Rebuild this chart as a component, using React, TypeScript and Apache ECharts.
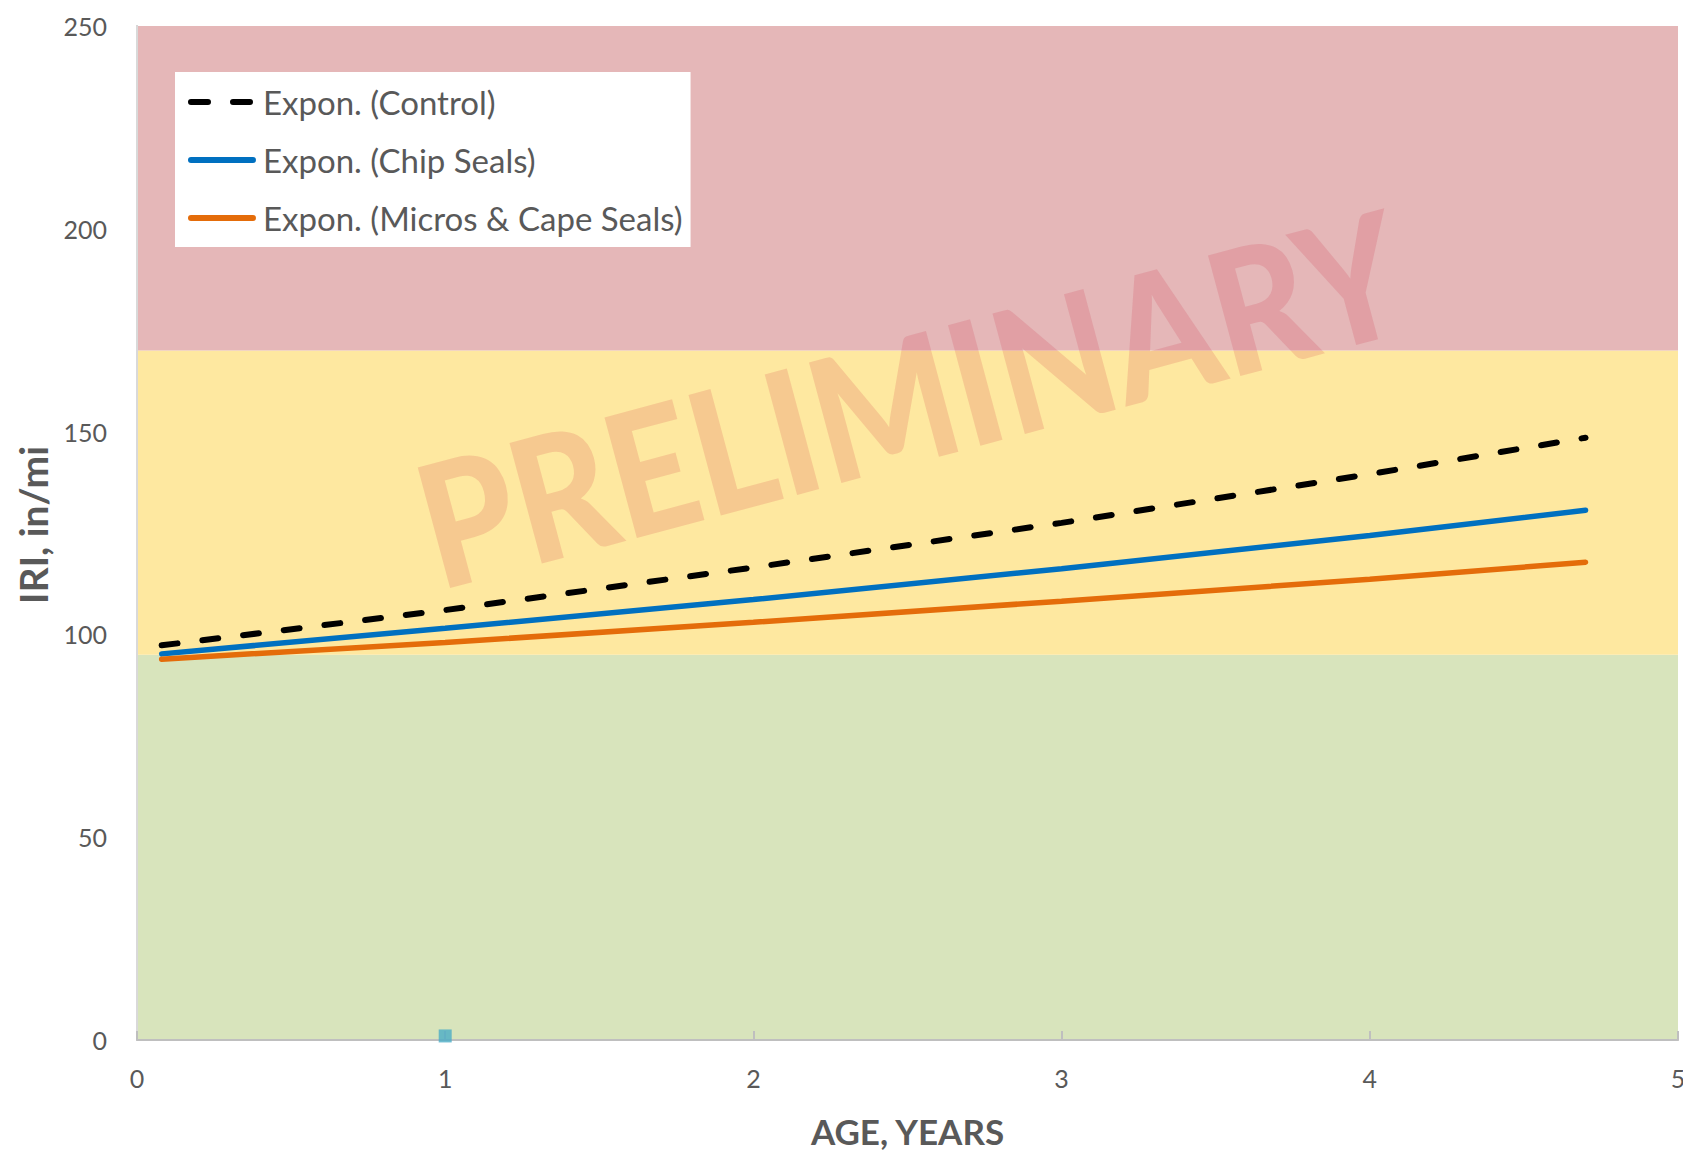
import React, { useEffect, useRef } from "react";
import * as echarts from "echarts";

// ---- data ----
const ageYears = [0.08, 1, 2, 3, 4, 4.7];
const controlIri = [97.3, 106.0, 116.5, 127.5, 139.5, 148.5];
const chipSealIri = [95.2, 101.5, 108.6, 116.2, 124.4, 130.6];
const microCapeIri = [93.9, 98.0, 103.0, 108.2, 113.6, 117.8];
const sampleAge = [1];
const sampleIri = [1];
const seriesNames = ["Expon. (Control)", "Expon. (Chip Seals)", "Expon. (Micros & Cape Seals)"];
const seriesColors = ["#000000", "#0070C0", "#E46C0A"];
const bandLimits = [0, 95, 170, 250];
const bandColors = ["#D8E4BC", "#FEE8A0", "#E5B7B8"];
const xTicks = [0, 1, 2, 3, 4, 5];
const yTicks = [0, 50, 100, 150, 200, 250];

const FONT = "Lato, 'Open Sans', sans-serif";
const TEXT = "#595959";
const DASH = [16, 25];

export default function App() {
  const ref = useRef<HTMLDivElement>(null);
  useEffect(() => {
    if (!ref.current) return;
    const chart = echarts.init(ref.current, undefined, { renderer: "svg" });
    const pts = (ys: number[]) => ageYears.map((x, i) => [x, ys[i]]);
    const bands = bandColors.map((c, i) => [
      { yAxis: bandLimits[i], itemStyle: { color: c } },
      { yAxis: bandLimits[i + 1] },
    ]);
    chart.setOption({
      animation: false,
      backgroundColor: "#fff",
      textStyle: { fontFamily: FONT },
      grid: { left: 137, right: 13, top: 26, bottom: 114 },
      legend: {
        data: seriesNames.map((n, i) => ({
          name: n,
          lineStyle: {
            color: seriesColors[i],
            width: 6,
            cap: "round",
            type: i === 0 ? [17, 25] : "solid",
          },
        })),
        orient: "vertical",
        left: 175,
        top: 72,
        backgroundColor: "#fff",
        padding: [13, 8, 12, 13],
        itemWidth: 62,
        itemHeight: 14,
        itemGap: 24,
        selectedMode: false,
        itemStyle: { opacity: 0, borderWidth: 0 },
        textStyle: {
          fontSize: 33,
          color: TEXT,
          fontFamily: FONT,
          lineHeight: 34,
          padding: [0, 0, 0, 5],
        },
      },
      xAxis: [
        {
          type: "value",
          min: xTicks[0],
          max: xTicks[xTicks.length - 1],
          interval: 1,
          name: "AGE, YEARS",
          nameLocation: "middle",
          nameGap: 73,
          nameTextStyle: { fontSize: 35, fontWeight: "bold", color: TEXT, fontFamily: FONT },
          axisLine: { show: true, onZero: false, lineStyle: { color: "#D9D9D9", width: 2 } },
          axisTick: { show: false },
          splitLine: { show: false },
          axisLabel: { fontSize: 25, color: TEXT, margin: 25, fontFamily: FONT },
        },
        {
          type: "value",
          position: "top",
          min: xTicks[0],
          max: xTicks[xTicks.length - 1],
          interval: 1,
          axisLine: { show: true, lineStyle: { color: "#BFBFBF", width: 2 } },
          axisTick: { show: true, length: 9, lineStyle: { color: "#BFBFBF", width: 2 } },
          axisLabel: { show: false },
          splitLine: { show: false },
        },
      ],
      yAxis: [
        {
          type: "value",
          min: yTicks[0],
          max: yTicks[yTicks.length - 1],
          interval: 50,
          name: "IRI, in/mi",
          nameLocation: "middle",
          nameGap: 85,
          nameTextStyle: {
            fontSize: 39,
            fontWeight: "bold",
            color: TEXT,
            fontFamily: FONT,
            padding: [0, 0, 0, 16],
          },
          axisLine: { show: true, lineStyle: { color: "#BFBFBF", width: 2 } },
          axisTick: { show: false },
          splitLine: { show: false },
          axisLabel: { fontSize: 25, color: TEXT, margin: 30, fontFamily: FONT },
        },
        {
          type: "value",
          position: "right",
          min: yTicks[0],
          max: yTicks[yTicks.length - 1],
          interval: 50,
          axisLine: { show: true, lineStyle: { color: "#D9D9D9", width: 2 } },
          axisTick: { show: false },
          axisLabel: { show: false },
          splitLine: { show: false },
        },
      ],
      graphic: [
        {
          type: "text",
          x: 910,
          y: 396,
          rotation: (15 * Math.PI) / 180,
          scaleX: 0.88,
          z: 1,
          silent: true,
          style: {
            text: "PRELIMINARY",
            fontSize: 172,
            fontWeight: 900,
            fontFamily: FONT,
            fill: "rgba(200,27,55,0.15)",
            align: "center",
            verticalAlign: "middle",
          },
        },
      ],
      series: [
        {
          name: "bands",
          type: "line",
          data: [],
          z: 0,
          silent: true,
          markArea: { silent: true, z: 0, data: bands },
        },
        {
          name: seriesNames[0],
          type: "line",
          data: pts(controlIri),
          symbol: "none",
          z: 5,
          color: seriesColors[0],
          lineStyle: { color: seriesColors[0], width: 6, type: DASH, cap: "round" },
        },
        {
          name: seriesNames[1],
          type: "line",
          data: pts(chipSealIri),
          symbol: "none",
          z: 5,
          color: seriesColors[1],
          lineStyle: { color: seriesColors[1], width: 5.5, cap: "round" },
        },
        {
          name: seriesNames[2],
          type: "line",
          data: pts(microCapeIri),
          symbol: "none",
          z: 5,
          color: seriesColors[2],
          lineStyle: { color: seriesColors[2], width: 5.5, cap: "round" },
        },
        {
          name: "sample",
          type: "scatter",
          data: sampleAge.map((x, i) => [x, sampleIri[i]]),
          symbol: "rect",
          symbolSize: 13,
          z: 6,
          itemStyle: { color: "#4BACC6" },
        },
      ],
    });
    return () => chart.dispose();
  }, []);
  return <div ref={ref} style={{ width: 1691, height: 1154, marginLeft: -8, marginTop: -8 }} />;
}
